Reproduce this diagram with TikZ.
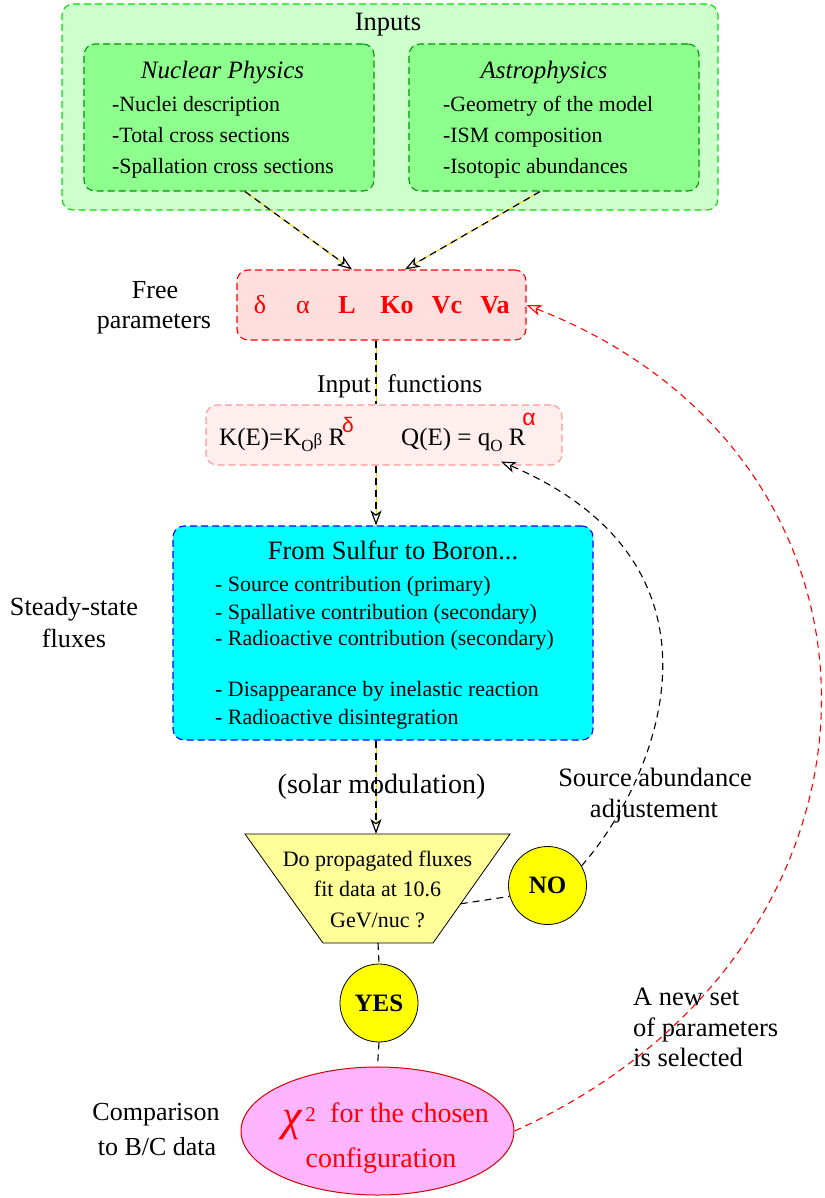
\documentclass[tikz,border=0pt]{standalone}
\usepackage{fontspec}
\setmainfont{Liberation Serif}
\setsansfont{Liberation Sans}
\usetikzlibrary{arrows.meta,shapes.geometric,calc}
\newcommand\myfs[1]{\fontsize{#1}{#1}\selectfont}
\definecolor{outg}{RGB}{204,255,204}
\definecolor{outgd}{RGB}{0,225,0}
\definecolor{ing}{RGB}{140,255,140}
\definecolor{ingd}{RGB}{0,150,0}
\definecolor{parfill}{RGB}{255,222,222}
\definecolor{ifnf}{RGB}{255,238,238}
\definecolor{ifnb}{RGB}{255,150,150}
\definecolor{cyanf}{RGB}{0,255,255}
\definecolor{blueb}{RGB}{0,0,255}
\definecolor{trapf}{RGB}{255,255,153}
\definecolor{yelf}{RGB}{255,255,0}
\definecolor{ellf}{RGB}{255,180,255}
\definecolor{elld}{RGB}{210,0,0}
\definecolor{redt}{RGB}{255,0,0}
\definecolor{yelc}{RGB}{255,210,0}
\begin{document}
\begin{tikzpicture}[x=1pt,y=-1pt,
  box/.style={rectangle, rounded corners=11pt, inner sep=0pt, line width=1.1pt, dash pattern=on 7pt off 4pt},
  t/.style={inner sep=0pt, anchor=base},
  tl/.style={inner sep=0pt, anchor=base west},
  tip/.style={-{Stealth[length=15pt,width=11pt,inset=4pt,fill=white]}},
  yl/.style={draw=yelc, line width=1pt, postaction={draw=black, line width=1.2pt, dash pattern=on 7pt off 5pt}},
  yla/.style={draw=yelc, line width=1pt, postaction={draw=black, line width=1.2pt, dash pattern=on 7pt off 5pt, tip}},
  blk/.style={draw=black, line width=1.1pt, dash pattern=on 7pt off 5pt},
  circ/.style={circle, draw=black, fill=yelf, line width=0.8pt, minimum size=78pt, inner sep=0pt, font=\bfseries\myfs{25}},
  redtxt/.style={text=redt}
]
\useasboundingbox (0,0) rectangle (824,1198);

% ---- Inputs
\node[box, draw=outgd, fill=outg, minimum width=656pt, minimum height=206pt] (inp) at (390,107) {};
\node[box, draw=ingd, fill=ing, minimum width=290pt, minimum height=147pt] (nuc) at (229,117.5) {};
\node[box, draw=ingd, fill=ing, minimum width=290pt, minimum height=147pt] (ast) at (554,117.5) {};
\node[t, font=\myfs{26.5}] (inpT) at (388,31) {Inputs};
\node[t, font=\itshape\myfs{25}] (nucT) at (222.5,79) {Nuclear Physics};
\node[t, font=\itshape\myfs{25}] (astT) at (544,79) {Astrophysics};
\node[tl, font=\myfs{21.8}] (n1) at (112,111.7) {-Nuclei description};
\node[tl, font=\myfs{21.8}] (n2) at (112,142.7) {-Total cross sections};
\node[tl, font=\myfs{21.8}] (n3) at (112,174) {-Spallation cross sections};
\node[tl, font=\myfs{21.8}] (a1) at (443,111.7) {-Geometry of the model};
\node[tl, font=\myfs{21.8}] (a2) at (443,142.7) {-ISM composition};
\node[tl, font=\myfs{21.8}] (a3) at (443,174) {-Isotopic abundances};

% ---- Free parameters
\node[box, draw=redt, fill=parfill, minimum width=289pt, minimum height=70pt] (par) at (381.5,305) {};
\node[t, redtxt, font=\myfs{26}] (pd) at (260,313) {δ};
\node[t, redtxt, font=\myfs{26}] (pa) at (303,313) {α};
\node[t, redtxt, font=\bfseries\myfs{26}] (pL) at (347,313) {L};
\node[t, redtxt, font=\bfseries\myfs{26}] (pK) at (397,313) {Ko};
\node[t, redtxt, font=\bfseries\myfs{26}] (pVc) at (447,313) {Vc};
\node[t, redtxt, font=\bfseries\myfs{26}] (pVa) at (495,313) {Va};
\node[t, font=\myfs{26}] (fp1) at (155,298) {Free};
\node[t, font=\myfs{26}] (fp2) at (154,328) {parameters};

% ---- Input functions
\node[tl, font=\myfs{25.5}] (ifT) at (317,392) {Input \hspace{10pt}functions};
\node[box, draw=ifnb, fill=ifnf, minimum width=356pt, minimum height=60pt] (ifn) at (384,435) {};
\node[tl, font=\myfs{25}] (kf) at (219,445) {K(E)=K\raisebox{-6pt}{\myfs{17}O}{\myfs{17}β} R\hspace{-3pt}\raisebox{13pt}{\color{redt}\sffamily\myfs{21}δ}};
\node[tl, font=\myfs{25}] (qf) at (401,445) {Q(E) = q\raisebox{-6pt}{\myfs{17}O} R\hspace{-3pt}\raisebox{20pt}{\color{redt}\sffamily\myfs{23}α}};

% ---- Fluxes
\node[box, draw=blueb, fill=cyanf, minimum width=420pt, minimum height=214pt] (flx) at (383,633) {};
\node[t, font=\myfs{26.5}] (flT) at (393,559) {From Sulfur to Boron...};
\node[tl, font=\myfs{21.9}] (f1) at (215,591.7) {- Source contribution (primary)};
\node[tl, font=\myfs{21.9}] (f2) at (215,619) {- Spallative contribution (secondary)};
\node[tl, font=\myfs{21.9}] (f3) at (215,645) {- Radioactive contribution (secondary)};
\node[tl, font=\myfs{21.9}] (f4) at (215,696.7) {- Disappearance by inelastic reaction};
\node[tl, font=\myfs{21.9}] (f5) at (215,724) {- Radioactive disintegration};
\node[t, font=\myfs{26.2}] (ss1) at (74,615) {Steady-state};
\node[t, font=\myfs{26.2}] (ss2) at (74,647) {fluxes};
\node[t, font=\myfs{28}] (sol) at (381.5,793) {(solar modulation)};

% ---- Trapezoid
\coordinate (trTL) at (245,834);
\coordinate (trTR) at (510,834);
\coordinate (trBR) at (433,943);
\coordinate (trBL) at (323,943);
\draw[fill=trapf, line width=0.8pt] (trTL) -- (trTR) -- (trBR) -- (trBL) -- cycle;
\node[t, font=\myfs{22}] (q1) at (377.5,866) {Do propagated fluxes};
\node[t, font=\myfs{22}] (q2) at (377.5,896) {fit data at 10.6};
\node[t, font=\myfs{22}] (q3) at (377.5,927) {GeV/nuc ?};
\coordinate (trIn) at (376,834);
\coordinate (trNO) at ($(trTR)!0.64!(trBR)$);
\coordinate (trBot) at ($(trBL)!0.5!(trBR)$);

\node[circ] (no) at (547.5,885.5) {NO};
\node[circ] (yes) at (379,1003) {YES};

\node[t, font=\myfs{26.5}] (sa1) at (655,786) {Source abundance};
\node[t, font=\myfs{26.5}] (sa2) at (654,817) {adjustement};

\node[tl, font=\myfs{26.5}] (ns1) at (633,1005) {A new set};
\node[tl, font=\myfs{26.5}] (ns2) at (633,1036) {of parameters};
\node[tl, font=\myfs{26.5}] (ns3) at (633,1066) {is selected};

% ---- Chi2
\node[ellipse, draw=elld, fill=ellf, line width=1pt, minimum width=273pt, minimum height=128pt, inner sep=0pt] (ell) at (377.5,1131) {};
\node[redtxt, inner sep=0pt, font=\itshape\myfs{44}] (chi) at (292.5,1125) {χ};
\node[redtxt, inner sep=0pt, font=\myfs{21}] (two) at (310.5,1115) {2};
\node[tl, redtxt, font=\myfs{28}] (c1) at (330,1122) {for the chosen};
\node[t, redtxt, font=\myfs{28}] (c2) at (381,1167) {configuration};
\node[t, font=\myfs{26}] (cb1) at (156,1120) {Comparison};
\node[t, font=\myfs{26}] (cb2) at (157,1155) {to B/C data};

% ---- Connectors
\draw[yla] ([xshift=16pt]nuc.south) -- ([xshift=-29.5pt]par.north);
\draw[yla] ([xshift=-14pt]ast.south) -- ([xshift=23.5pt]par.north);
\draw[yl] ([xshift=-5.5pt]par.south) -- ([xshift=-8pt]ifn.north);
\draw[yla] ([xshift=-8pt]ifn.south) -- ([xshift=-7pt]flx.north);
\draw[yla] ([xshift=-7pt]flx.south) -- (trIn);
\draw[blk] (trNO) -- (no.196);
\draw[blk] (trBot) -- (yes.north);
\draw[blk] (yes.south) -- (ell.north);
\coordinate (ifnEnd) at ([xshift=117pt,yshift=4pt]ifn.south);
\draw[blk, tip] (no.30) .. controls (658,779) and (745,566) .. (ifnEnd);
\draw[blk, draw=redt, tip] (ell.east) .. controls (915,950) and (925,460) .. (par.east);
\end{tikzpicture}
\end{document}
